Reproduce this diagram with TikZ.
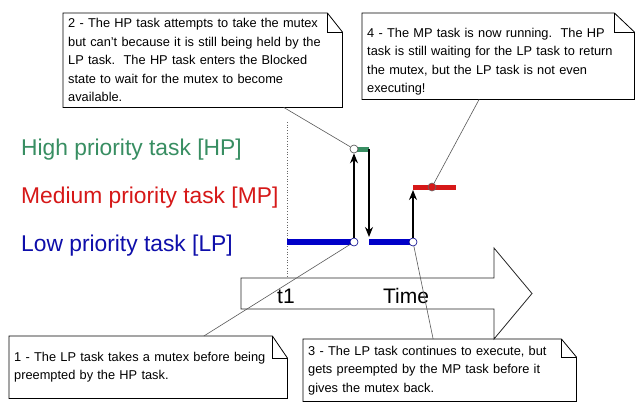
\documentclass[tikz,border=0pt]{standalone}
\usepackage{fontspec}
\setmainfont{Liberation Sans}
\usetikzlibrary{arrows.meta,calc}
\definecolor{hpgreen}{RGB}{56,142,98}
\definecolor{mpred}{RGB}{214,24,24}
\definecolor{lpblue}{RGB}{14,14,170}
\definecolor{lpbar}{RGB}{0,0,200}
\tikzset{
  notebox/.style={anchor=north west, inner xsep=5pt, inner ysep=0pt, align=left,
    font=\fontsize{12.8}{18.5}\selectfont},
  tasklabel/.style={anchor=base west, inner sep=0pt, font=\fontsize{22.8}{26}\selectfont},
  timetext/.style={anchor=base, inner sep=0pt, font=\fontsize{21}{24}\selectfont},
  dot/.style={circle, minimum size=8pt, inner sep=0pt, draw=black!75, line width=0.6pt, fill=white},
  callout/.style={draw=black!65, line width=0.6pt},
  evarrow/.style={line width=1.2pt, -{Stealth[length=10pt,width=8pt]}},
  outline/.style={draw=black, line width=0.8pt},
}
\begin{document}
\begin{tikzpicture}[x=1pt,y=-1pt]
\useasboundingbox (0,0) rectangle (643,408);
\fill[white] (0,0) rectangle (643,408);

% task labels
\node[tasklabel, text=hpgreen] (hpl) at (21,155) {High priority task [HP]};
\node[tasklabel, text=mpred] (mpl) at (21,203) {Medium priority task [MP]};
\node[tasklabel, text=lpblue] (lpl) at (21,251) {Low priority task [LP]};

% timeline arrow
\draw[fill=white, draw=black!85, line width=0.8pt]
  (241,278) -- (494,278) -- (494,248) -- (532,293.5) -- (494,339) -- (494,309) -- (241,309) -- cycle;
\node[timetext] (t1) at (286,303) {t1};
\node[timetext] (time) at (406,303) {Time};

% dotted marker at t1
\coordinate (dtop) at (287,122);
\coordinate (dbot) at (287,278);
\draw[black!60, dotted, line width=0.7pt] (dtop) -- (dbot);

% coordinates
\coordinate (lpa) at (287,242);
\coordinate (lpb) at (369,242);
\coordinate (hpe) at (369,149);
\coordinate (hpd) at (369,237);
\coordinate (mpa) at (413,187);
\coordinate (mpb) at (456,187);
\coordinate (mpu) at (413,190);

% bars
\draw[lpbar, line width=6pt] (lpa) -- (354,242);
\draw[lpbar, line width=6pt] (lpb) -- (413,242);
\draw[hpgreen, line width=5pt] (354,149) -- (hpe);
\draw[mpred, line width=5pt] (mpa) -- (mpb);

% event dots
\node[dot, draw=lpbar!70!black] (c1) at (354,242) {};
\node[dot, draw=black!70] (c2) at (354,149) {};
\node[dot, draw=lpbar!70!black] (c3) at (413,242) {};
\node[dot, fill=mpred, draw=black!60] (c4) at (432,187) {};

% transitions
\draw[evarrow] (c1.north) -- (c2.south);
\draw[evarrow] (hpe) -- (hpd);
\draw[evarrow] (c3.north) -- (mpu);

% note boxes
\node[notebox, text width=269pt, minimum height=94pt] (b2) at (63,13) {2 - The HP task attempts to take the mutex\\but can't because it is still being held by the\\LP task.\ \ The HP task enters the Blocked\\state to wait for the mutex to become\\available.};
\node[notebox, text width=262pt, minimum height=86pt] (b4) at (362,13) {\rule{0pt}{20pt}4 - The MP task is now running.\ \ The HP\\task is still waiting for the LP task to return\\the mutex, but the LP task is not even\\executing!};
\node[notebox, text width=268pt, minimum height=62pt] (b1) at (9,336) {1 - The LP task takes a mutex before being\\preempted by the HP task.};
\node[notebox, text width=263pt, minimum height=62pt] (b3) at (303,339) {3 - The LP task continues to execute, but\\gets preempted by the MP task before it\\gives the mutex back.};

% note outlines with folded corner
\foreach \b/\fw/\fh in {b2/15/19, b4/20/19, b1/15/22, b3/15/18} {
  \draw[outline, fill=none]
    (\b.north west) -- ([xshift=-\fw pt]\b.north east) -- ([yshift=-\fh pt]\b.north east)
    -- (\b.south east) -- (\b.south west) -- cycle;
  \draw[outline]
    ([xshift=-\fw pt]\b.north east) -- ([xshift=-\fw pt, yshift=-\fh pt]\b.north east)
    -- ([yshift=-\fh pt]\b.north east);
}

% callout lines
\draw[callout] ($(b2.south west)!0.79!(b2.south east)$) -- (c2);
\draw[callout] ($(b4.south west)!0.43!(b4.south east)$) -- (c4);
\draw[callout] ($(b1.north west)!0.70!(b1.north east)$) -- (c1);
\draw[callout] ($(b3.north west)!0.476!(b3.north east)$) -- (c3);
\end{tikzpicture}
\end{document}
